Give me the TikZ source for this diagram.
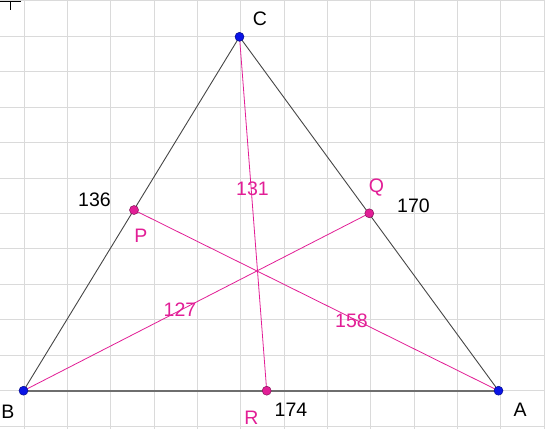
\documentclass[tikz,border=0pt]{standalone}
\usepackage{fontspec}
\setmainfont{Liberation Sans}
\definecolor{gridc}{RGB}{218,218,218}
\definecolor{pinkc}{RGB}{226,30,150}
\definecolor{edgec}{RGB}{70,70,70}
\definecolor{basec}{RGB}{110,110,110}
\definecolor{bluec}{RGB}{10,20,230}
\tikzset{
  gridline/.style={draw=gridc, line width=1pt},
  edge/.style={draw=edgec, line width=0.9pt},
  baseedge/.style={draw=basec, line width=1.8pt},
  cevian/.style={draw=pinkc, line width=0.8pt},
  vdot/.style={circle, fill=bluec, draw=bluec!60!black, line width=0.5pt, inner sep=0pt, minimum size=9pt},
  pdot/.style={circle, fill=pinkc, draw=pinkc!60!black, line width=0.5pt, inner sep=0pt, minimum size=9pt},
  blab/.style={text=black, inner sep=0pt, font=\fontsize{19.5}{22}\selectfont},
  plab/.style={text=pinkc, inner sep=0pt, font=\fontsize{19.5}{22}\selectfont},
}
\begin{document}
\begin{tikzpicture}[x=1pt,y=-1pt]
\useasboundingbox (0,0) rectangle (545,429);
\fill[white] (0,0) rectangle (545,429);
\foreach \i in {0,...,12} \draw[gridline] ({24+43.333*\i},0) -- ({24+43.333*\i},429);
\foreach \j in {-1,...,11} \draw[gridline] (0,{390.7-35.45*\j}) -- (545,{390.7-35.45*\j});
% corner mark
\coordinate (m1) at (0,1);
\coordinate (m2) at (21,1);
\coordinate (m3) at (10.3,1);
\coordinate (m4) at (10.3,10);
\draw[black, line width=0.9pt] (m1) -- (m2);
\draw[black, line width=0.9pt] (m3) -- (m4);
% vertices and feet
\coordinate (B) at (23.5,390.7);
\coordinate (A) at (498.5,390.7);
\coordinate (C) at (239.5,36.8);
\coordinate (P) at (134,210);
\coordinate (Q) at (369.3,213.3);
\coordinate (R) at (266.7,390.7);
% edges
\draw[edge] (B) -- (C);
\draw[edge] (C) -- (A);
\draw[baseedge] (B) -- (A);
% cevians
\draw[cevian] (C) -- (R);
\draw[cevian] (P) -- (A);
\draw[cevian] (Q) -- (B);
% dots
\node[vdot] (dB) at (B) {};
\node[vdot] (dA) at (A) {};
\node[vdot] (dC) at (C) {};
\node[pdot] (dP) at (P) {};
\node[pdot] (dQ) at (Q) {};
\node[pdot] (dR) at (R) {};
% labels
\node[blab] (lC) at (260,18.5) {C};
\node[blab] (lB) at (8,411.5) {B};
\node[blab] (lA) at (520,410) {A};
\node[blab] (l136) at (94.5,200) {136};
\node[blab] (l170) at (413.5,205.5) {170};
\node[blab] (l174) at (291,410) {174};
\node[plab] (lP) at (141,236) {P};
\node[plab] (lQ) at (376.5,188) {Q};
\node[plab] (lR) at (251.5,417.5) {R};
\node[plab] (l131) at (252.5,188.5) {131};
\node[plab] (l127) at (180,310) {127};
\node[plab] (l158) at (351.5,320.5) {158};
\end{tikzpicture}
\end{document}
